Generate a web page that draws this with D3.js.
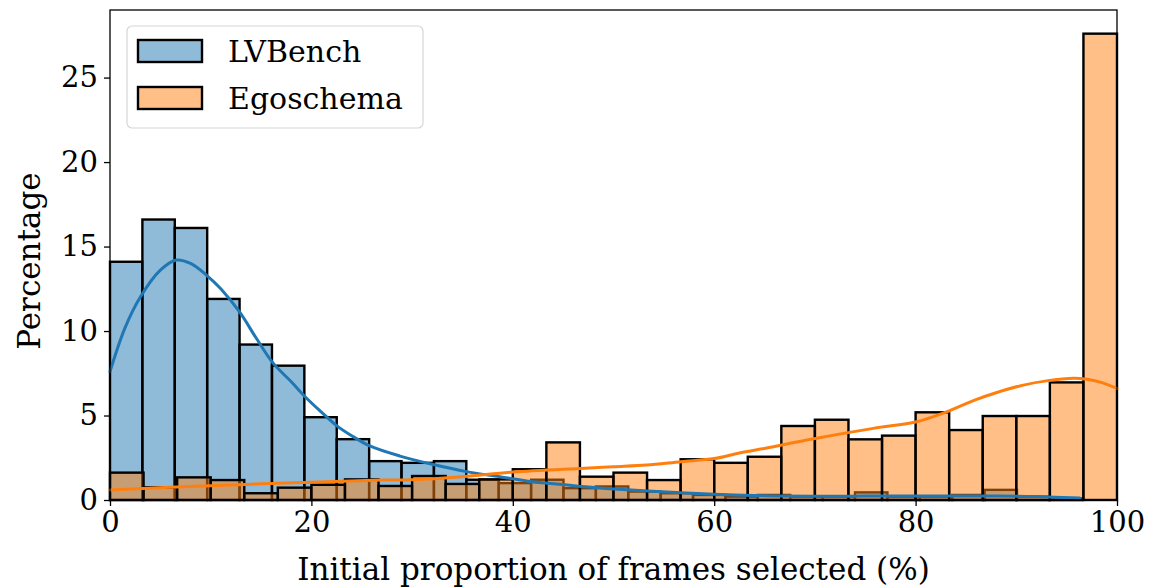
<!DOCTYPE html>
<html>
<head>
<meta charset="utf-8">
<script src="https://cdn.jsdelivr.net/npm/d3@7"></script>
<style>
  body { margin: 0; background: #fff; }
  text { font-family: "DejaVu Serif", serif; fill: #000; }
</style>
</head>
<body>
<figure id="histChart" style="margin:0"></figure>
<script>
// Series names (legend order)
const seriesNames = ['LVBench', 'Egoschema'];

// LVBench histogram: 30 bins spanning 0 .. 96.5
const lvRange = [0, 96.5];
const lvBins = [14.1, 16.6, 16.1, 11.9, 9.2, 7.95, 4.9, 3.6, 2.3, 2.2,
                2.3, 1.2, 1.0, 1.2, 0.7, 0.8, 0.5, 0.4, 0.3, 0.2,
                0.3, 0.2, 0.2, 0.45, 0.2, 0.2, 0.3, 0.6, 0.2, 0.1];

// Egoschema histogram: 30 bins spanning 0 .. 100
const egoRange = [0, 100];
const egoBins = [1.62, 0.75, 1.34, 1.18, 0.4, 0.73, 0.9, 1.22, 0.83, 1.42,
                 0.95, 1.22, 1.82, 3.41, 1.38, 1.62, 1.18, 2.41, 2.2, 2.56,
                 4.38, 4.75, 3.59, 3.81, 5.19, 4.14, 4.97, 4.97, 6.96, 27.6];

// KDE curves: [x, percentage]
const lvKde = [[0, 7.6], [1.5, 10.2], [3, 12.0], [5, 13.6], [6.6, 14.2], [8, 14.0],
               [9.6, 13.3], [11, 12.5], [12.9, 11.1], [14.5, 9.6], [16.2, 8.1], [18, 7.0],
               [19.4, 6.1], [21, 5.2], [22.5, 4.4], [24, 3.8], [25.8, 3.2], [28.8, 2.6],
               [32.1, 2.1], [35.4, 1.68], [38.7, 1.38], [41.7, 1.1], [43.5, 0.99], [46.8, 0.8],
               [50.1, 0.65], [53.4, 0.53], [56.7, 0.43], [60, 0.34], [63, 0.28], [66, 0.24],
               [70, 0.22], [75, 0.23], [80, 0.24], [85, 0.24], [88, 0.24], [92, 0.2], [96.3, 0.12]];
const egoKde = [[0, 0.59], [10, 0.85], [20, 1.05], [27, 1.18], [30, 1.2], [35, 1.38],
                [40, 1.65], [46.7, 1.87], [50, 1.97], [53.3, 2.07], [56.7, 2.27], [60, 2.45],
                [62.6, 2.8], [65, 3.05], [69.2, 3.55], [75.8, 4.24], [80.1, 4.63], [83, 5.2],
                [85.8, 5.9], [88, 6.35], [90.7, 6.8], [93, 7.05], [95.7, 7.2], [97, 7.14],
                [98.5, 6.95], [100, 6.6]];

// Axis ticks
const xTicks = [0, 20, 40, 60, 80, 100];
const yTicks = [0, 5, 10, 15, 20, 25];

const colors = ['#1f77b4', '#ff7f0e'];

// Dimensions
const W = 1151, H = 588;
const margin = { top: 10, right: 34, bottom: 88, left: 110 };
const width = W - margin.left - margin.right;
const height = H - margin.top - margin.bottom;

const svg = d3.select('figure#histChart')
  .append('svg')
  .attr('width', W)
  .attr('height', H);

const g = svg.append('g')
  .attr('transform', `translate(${margin.left},${margin.top})`);

const x = d3.scaleLinear().domain([0, 100]).range([0, width]);
const y = d3.scaleLinear().domain([0, 29]).range([height, 0]);

// Turn bin heights into {x0, x1, v} records
function toBins(values, range) {
  const w = (range[1] - range[0]) / values.length;
  return values.map((v, i) => ({ x0: range[0] + i * w, x1: range[0] + (i + 1) * w, v }));
}

const series = [toBins(lvBins, lvRange), toBins(egoBins, egoRange)];

// Bars: LVBench first, Egoschema on top
series.forEach((bins, si) => {
  g.append('g')
    .selectAll('rect')
    .data(bins)
    .enter()
    .append('rect')
    .attr('x', d => x(d.x0))
    .attr('y', d => y(d.v))
    .attr('width', d => x(d.x1) - x(d.x0))
    .attr('height', d => y(0) - y(d.v))
    .attr('fill', colors[si])
    .attr('fill-opacity', 0.5)
    .attr('stroke', '#000')
    .attr('stroke-width', 2.4);
});

// KDE lines
const line = d3.line()
  .x(d => x(d[0]))
  .y(d => y(d[1]))
  .curve(d3.curveCatmullRom.alpha(0.5));

[lvKde, egoKde].forEach((pts, si) => {
  g.append('path')
    .datum(pts)
    .attr('d', line)
    .attr('fill', 'none')
    .attr('stroke', colors[si])
    .attr('stroke-width', 3)
    .attr('stroke-linecap', 'round');
});

// Axes
const xAxis = g.append('g')
  .attr('transform', `translate(0,${height})`)
  .call(d3.axisBottom(x).tickValues(xTicks).tickSize(6).tickPadding(5));
const yAxis = g.append('g')
  .call(d3.axisLeft(y).tickValues(yTicks).tickSize(6).tickPadding(6));

[xAxis, yAxis].forEach(ax => {
  ax.select('.domain').remove();
  ax.selectAll('line').attr('stroke', '#000').attr('stroke-width', 1.3);
  ax.selectAll('text').style('font-family', '"DejaVu Serif", serif').style('font-size', '29px');
});

// Frame around the plot area
g.append('rect')
  .attr('width', width)
  .attr('height', height)
  .attr('fill', 'none')
  .attr('stroke', '#000')
  .attr('stroke-width', 1.3);

// Axis labels
svg.append('text')
  .attr('x', margin.left + width / 2)
  .attr('y', 580)
  .attr('text-anchor', 'middle')
  .style('font-size', '31px')
  .text('Initial proportion of frames selected (%)');

svg.append('text')
  .attr('transform', `translate(40,${margin.top + height / 2 + 6}) rotate(-90)`)
  .attr('text-anchor', 'middle')
  .style('font-size', '31px')
  .text('Percentage');

// Legend
const legend = svg.append('g');
legend.append('rect')
  .attr('x', 127).attr('y', 26)
  .attr('width', 296).attr('height', 102)
  .attr('rx', 5)
  .attr('fill', '#fff').attr('fill-opacity', 0.8)
  .attr('stroke', '#d6d6d6').attr('stroke-width', 1.2);

seriesNames.forEach((name, i) => {
  const ly = 40 + i * 47;
  legend.append('rect')
    .attr('x', 138).attr('y', ly)
    .attr('width', 64).attr('height', 22)
    .attr('fill', colors[i]).attr('fill-opacity', 0.5)
    .attr('stroke', '#000').attr('stroke-width', 2.4);
  legend.append('text')
    .attr('x', 228).attr('y', ly + 22)
    .style('font-size', '30px')
    .text(name);
});
</script>
</body>
</html>
